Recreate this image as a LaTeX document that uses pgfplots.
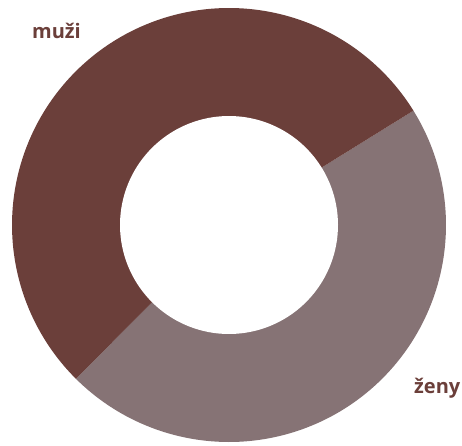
\documentclass[border=0pt]{standalone}
\usepackage{pgfplots}
\usepackage{pgfplotstable}
\pgfplotsset{compat=1.18}
\usepackage{fontspec}
\setmainfont{Open Sans}

\definecolor{muzi}{RGB}{107,63,58}
\definecolor{zeny}{RGB}{134,115,117}

% share of each group, in percent
\pgfplotstableread{
group value
zeny  46.3
muzi  53.7
}\shares

\begin{document}
\begin{tikzpicture}
\pgfplotstablegetelem{0}{value}\of\shares \let\zenyval\pgfplotsretval
\pgfplotstablegetelem{1}{value}\of\shares \let\muzival\pgfplotsretval
\pgfmathsetmacro{\aStart}{31.8}
\pgfmathsetmacro{\aMid}{\aStart-3.6*\zenyval}
\pgfmathsetmacro{\aEnd}{\aMid-3.6*\muzival}
\begin{axis}[
    hide axis,
    scale only axis,
    width=462pt, height=445pt,
    xmin=0, xmax=462, ymin=0, ymax=445,
    clip=false,
]
% slices (centre 229,220 ; outer radius 217)
\addplot[fill=zeny, draw=none, domain=\aMid:\aStart, samples=120]
    ({229+217*cos(x)},{220+217*sin(x)}) -- (axis cs:229,220) -- cycle;
\addplot[fill=muzi, draw=none, domain=\aEnd:\aMid, samples=140]
    ({229+217*cos(x)},{220+217*sin(x)}) -- (axis cs:229,220) -- cycle;
% hole
\addplot[fill=white, draw=none, domain=0:360, samples=140]
    ({229+109*cos(x)},{220+109*sin(x)}) -- cycle;

\node[anchor=base west, inner sep=0, text=muzi, font=\fontsize{20}{24}\selectfont\bfseries]
    at (axis cs:32,406) {muži};
\node[anchor=base west, inner sep=0, text=muzi, font=\fontsize{20}{24}\selectfont\bfseries]
    at (axis cs:414,52) {ženy};
\path (axis cs:0,0) rectangle (axis cs:462,445);
\end{axis}
\end{tikzpicture}
\end{document}
